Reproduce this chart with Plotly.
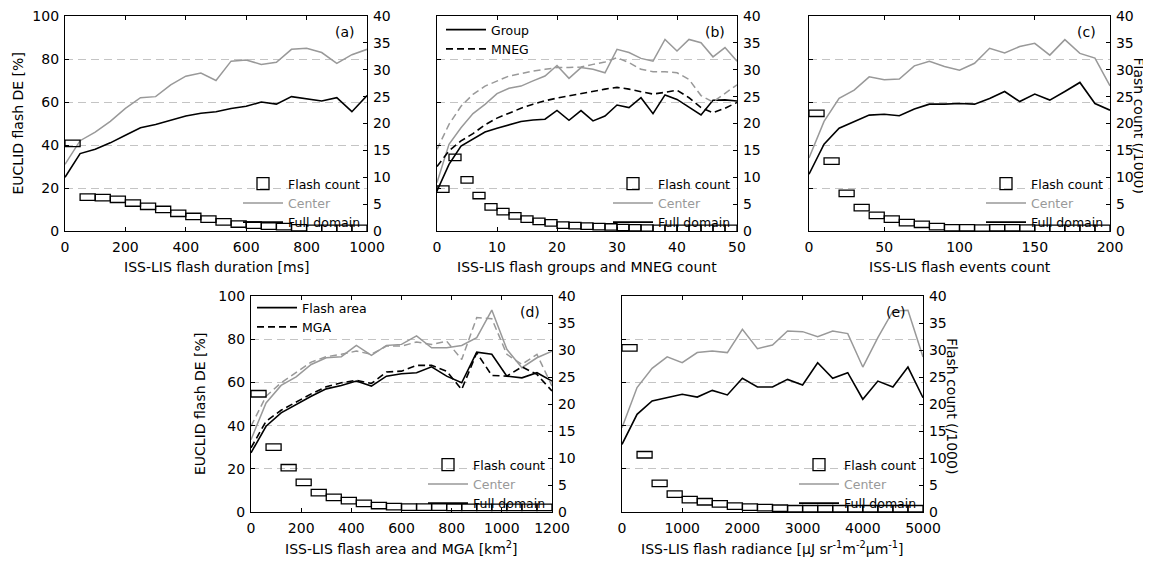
import plotly.graph_objects as go

FONT = "DejaVu Sans"
GREY = "#999999"
W, H = 1151, 561
OFF = 8  # the page places the figure 8 px in from the window's top-left corner

# ---------------- data ----------------
# (a) flash duration
a_x = list(range(0, 1001, 50))
a_center = [31, 42, 46, 51, 57, 62, 62.5, 68, 72, 73.5, 70, 79, 79.5, 77.5, 78.5, 84.5, 85, 83, 78, 82, 84.5]
a_full = [25, 36, 38, 41, 44.5, 48, 49.5, 51.5, 53.5, 54.8, 55.5, 57, 58, 60, 59, 62.5, 61.5, 60.5, 62, 55.5, 63]
a_count = [16.3, 6.3, 6.2, 5.9, 5.2, 4.6, 4.0, 3.3, 2.7, 2.2, 1.7, 1.3, 1.1, 0.9, 0.8, 0.6, 0.5, 0.5, 0.5, 0.5]

# (b) groups and MNEG count
b_x = list(range(0, 51, 2))
b_group_center = [22.5, 40.3, 48, 54.6, 58.9, 63.9, 66.4, 67.4, 69.8, 72.1, 77, 71, 76, 75.2, 73.6, 84.5, 83, 80.3, 79, 89.1, 83.7, 89.1, 87.6, 81, 85.3, 79]
b_group_full = [18.6, 31, 39.5, 42.6, 46, 47.8, 49.3, 50.9, 51.6, 52, 56.1, 51.5, 56, 51.2, 53.5, 58.6, 57.4, 62, 54.6, 63.3, 61.2, 57.7, 54, 60.8, 61, 60.5]
b_mneg_center = [38, 49.6, 58, 63.6, 67.4, 69.8, 72.1, 73.2, 74.4, 75.2, 76, 76, 76.3, 77.5, 78.6, 80.6, 78.3, 75.2, 74.1, 74.1, 73.6, 70.5, 63, 60, 64, 68]
b_mneg_full = [30, 37.3, 41.9, 45.3, 49.4, 52.5, 54.8, 57.1, 59, 60.6, 61.8, 62.9, 64, 65.2, 66, 66.8, 66, 64.8, 63.7, 64.5, 65.5, 62, 57.4, 55, 57.1, 59.8]
b_count = [7.8, 13.7, 9.5, 6.6, 4.5, 3.6, 2.8, 2.2, 1.8, 1.5, 1.1, 1.0, 0.9, 0.8, 0.75, 0.65, 0.6, 0.55, 0.5, 0.5, 0.5, 0.5, 0.5, 0.5, 0.5]

# (c) events count
c_x = list(range(0, 201, 10))
c_center = [34, 51, 61.7, 65.5, 71.7, 70.3, 70.7, 76.8, 78.9, 76.5, 74.8, 78, 85, 82.8, 85.8, 87.3, 81.8, 89, 82.6, 80.4, 67.5]
c_full = [26.4, 40.4, 47.8, 50.8, 53.9, 54.3, 53.6, 56.7, 59, 59, 59.3, 59, 61.6, 64.9, 60.2, 63.7, 60.9, 64.9, 69.1, 59.3, 56.2]
c_count = [21.9, 13.0, 7.0, 4.35, 2.9, 2.2, 1.55, 1.25, 0.8, 0.6, 0.6, 0.55, 0.6, 0.6, 0.55, 0.5, 0.5, 0.5, 0.5, 0.5]

# (d) flash area and MGA
d_x = list(range(0, 1201, 60))
d_area_center = [33.5, 50.5, 58.6, 62.6, 68.3, 71.4, 71.9, 77.1, 72.5, 77.1, 77.6, 81.5, 76, 76, 77.1, 80.7, 93.5, 75.3, 66.8, 71.4, 74.5]
d_area_full = [27.4, 39.7, 45.9, 49.8, 53.6, 57, 58.6, 60.6, 58.3, 62.9, 64, 64.5, 67.2, 62.9, 59.8, 74, 73, 62.9, 62.1, 64.5, 60.6]
d_mga_center = [39.7, 53.6, 59.8, 64.5, 69.4, 71.9, 73, 74.5, 73, 76.8, 76.8, 78.7, 77.6, 79.1, 70.6, 90, 89.5, 73, 68.3, 73, 58.3]
d_mga_full = [29.7, 42, 47.1, 50.9, 54.7, 58, 59.8, 61, 59.5, 64.8, 65.2, 67.9, 67.9, 65.2, 56.7, 73.7, 63.2, 62.9, 67.2, 63.7, 56]
d_count = [21.9, 12.0, 8.2, 5.5, 3.6, 2.7, 2.1, 1.6, 1.2, 1.0, 0.9, 0.9, 0.9, 0.85, 0.85, 0.85, 0.85, 0.85, 0.85, 0.85]

# (e) flash radiance
e_x = list(range(0, 5001, 250))
e_center = [39, 57.6, 66.5, 71.8, 69.1, 73.8, 74.5, 73.8, 84.6, 75.6, 77.3, 83.8, 83.5, 81.2, 83.8, 82.6, 67.1, 80.7, 93, 93.4, 71.8]
e_full = [31.3, 45.2, 51.4, 52.9, 54.5, 53.2, 56.3, 54.2, 61.9, 57.9, 57.9, 61.4, 58.8, 69.1, 61.9, 64.5, 52.2, 60.6, 57.9, 67.1, 52.9]
e_count = [30.4, 10.6, 5.3, 3.3, 2.3, 1.9, 1.5, 1.1, 0.9, 0.8, 0.7, 0.6, 0.6, 0.6, 0.6, 0.6, 0.6, 0.6, 0.6, 0.6]

x_titles = ["ISS-LIS flash duration [ms]",
            "ISS-LIS flash groups and MNEG count",
            "ISS-LIS flash events count",
            "ISS-LIS flash area and MGA [km<sup>2</sup>]",
            "ISS-LIS flash radiance [μJ sr<sup>-1</sup>m<sup>-2</sup>μm<sup>-1</sup>]"]
panel_labels = ["(a)", "(b)", "(c)", "(d)", "(e)"]
left_title = "EUCLID flash DE [%]"
right_title = "Flash count (/1000)"
BOX_H = 1.2  # drawn height of the flash-count boxes (right-axis units)

# ---------------- layout geometry (window pixels) ----------------
panels = [  # x0, x1, ytop, ybot
    (65, 367, 16, 231),
    (437, 737, 16, 231),
    (809, 1110, 16, 231),
    (251, 552, 296, 512),
    (622, 923, 296, 512),
]
x_ranges = [[0, 1000], [0, 50], [0, 200], [0, 1200], [0, 5000]]
x_dticks = [200, 10, 50, 200, 1000]
left_labels = [True, False, False, True, False]


def px(x):
    return (x - OFF) / W


def py(y):
    return 1 - (y - OFF) / H


fig = go.Figure()
layout = dict()
tickfont = dict(family=FONT, size=14, color="black")
common = dict(showline=True, linecolor="black", linewidth=1.2,
              ticks="inside", ticklen=4, tickcolor="black", tickwidth=1,
              zeroline=False, tickfont=tickfont, automargin=False,
              ticklabeloverflow="allow", tickmode="linear", tick0=0)

for i, (x0, x1, yt, yb) in enumerate(panels):
    n = i + 1
    sfx = "" if n == 1 else str(n)
    layout["xaxis" + sfx] = dict(domain=[px(x0), px(x1)], range=x_ranges[i], anchor="y" + sfx,
                                 dtick=x_dticks[i], mirror="ticks", showgrid=False,
                                 ticklabelstandoff=3, **common)
    layout["yaxis" + sfx] = dict(domain=[py(yb), py(yt)], range=[0, 100], anchor="x" + sfx,
                                 dtick=20, showgrid=True, gridcolor="#c4c4c4",
                                 griddash="8px,5px", gridwidth=1,
                                 showticklabels=left_labels[i], ticklabelstandoff=2, **common)
    layout[f"yaxis{n + 5}"] = dict(overlaying="y" + sfx, side="right", anchor="x" + sfx,
                                   range=[0, 40], dtick=5, showgrid=False,
                                   ticklabelstandoff=2, **common)

datasets = [
    (a_x, a_count, [(a_center, GREY, "solid"), (a_full, "black", "solid")]),
    (b_x, b_count, [(b_group_center, GREY, "solid"), (b_group_full, "black", "solid"),
                    (b_mneg_center, GREY, "dash"), (b_mneg_full, "black", "dash")]),
    (c_x, c_count, [(c_center, GREY, "solid"), (c_full, "black", "solid")]),
    (d_x, d_count, [(d_area_center, GREY, "solid"), (d_area_full, "black", "solid"),
                    (d_mga_center, GREY, "dash"), (d_mga_full, "black", "dash")]),
    (e_x, e_count, [(e_center, GREY, "solid"), (e_full, "black", "solid")]),
]

DASH = "7px,4px"
for i, (xs, counts, lines) in enumerate(datasets):
    n = i + 1
    sfx = "" if n == 1 else str(n)
    xr, yl, yr = "x" + sfx, "y" + sfx, f"y{n + 5}"
    lg = "legend" + sfx
    for vals, col, dash in lines:
        fig.add_trace(go.Scatter(x=xs, y=vals, mode="lines", xaxis=xr, yaxis=yl,
                                 line=dict(color=col, width=1.6 if col == "black" else 1.5,
                                           dash=DASH if dash == "dash" else "solid"),
                                 showlegend=False, hoverinfo="skip"))
    # flash count boxes on right axis, one per bin between consecutive x values
    centers = [(xs[k] + xs[k + 1]) / 2 for k in range(len(xs) - 1)]
    bw = xs[1] - xs[0]
    fig.add_trace(go.Bar(x=centers, y=[BOX_H] * len(counts), base=[c - BOX_H / 2 for c in counts],
                         width=bw, xaxis=xr, yaxis=yr,
                         marker=dict(color="rgba(0,0,0,0)", line=dict(color="black", width=1.3)),
                         name="Flash count", legend=lg, legendrank=1, showlegend=True,
                         hoverinfo="skip"))
    # legend entries
    fig.add_trace(go.Scatter(x=[None], y=[None], mode="lines", xaxis=xr, yaxis=yl,
                             line=dict(color=GREY, width=1.5),
                             name=f"<span style='color:{GREY}'>Center</span>",
                             legend=lg, legendrank=2))
    fig.add_trace(go.Scatter(x=[None], y=[None], mode="lines", xaxis=xr, yaxis=yl,
                             line=dict(color="black", width=1.6),
                             name="Full domain", legend=lg, legendrank=3))
    x0, x1, yt, yb = panels[i]
    layout[lg] = dict(x=px(x1 - 1), y=py(yb + 6), xanchor="right", yanchor="bottom",
                      bgcolor="rgba(0,0,0,0)", borderwidth=0,
                      font=dict(family=FONT, size=12.5, color="black"),
                      traceorder="normal", itemwidth=40)

# top-left legends for (b) and (d)
extra = [(2, "legend6", ["Group", "MNEG"], 4, -1), (4, "legend7", ["Flash area", "MGA"], 1, -3)]
for pi, lg, names, dx, dy in extra:
    xr, yl = f"x{pi}", f"y{pi}"
    for k, nm in enumerate(names):
        fig.add_trace(go.Scatter(x=[None], y=[None], mode="lines", xaxis=xr, yaxis=yl,
                                 line=dict(color="black", width=1.6, dash="solid" if k == 0 else DASH),
                                 name=nm, legend=lg, legendrank=k + 1))
    x0, x1, yt, yb = panels[pi - 1]
    layout[lg] = dict(x=px(x0 + dx), y=py(yt + dy), xanchor="left", yanchor="top",
                      bgcolor="rgba(0,0,0,0)", borderwidth=0,
                      font=dict(family=FONT, size=12.5, color="black"),
                      traceorder="normal", itemwidth=40)

annotations = []
for i, (x0, x1, yt, yb) in enumerate(panels):
    annotations.append(dict(x=px((x0 + x1) / 2), y=py(yb + 36), xref="paper", yref="paper",
                            text=x_titles[i], showarrow=False, xanchor="center", yanchor="middle",
                            font=dict(family=FONT, size=14, color="black")))
    lab_off = [10, 10, 12, 10, 15][i]
    annotations.append(dict(x=px(x1 - lab_off), y=py(yt + 16), xref="paper", yref="paper",
                            text=panel_labels[i], showarrow=False, xanchor="right", yanchor="middle",
                            font=dict(family=FONT, size=14, color="black")))
for (pi, xc) in [(0, 18), (3, 200)]:
    x0, x1, yt, yb = panels[pi]
    annotations.append(dict(x=px(xc), y=py((yt + yb) / 2), xref="paper", yref="paper",
                            text=left_title, showarrow=False, textangle=-90,
                            xanchor="center", yanchor="middle",
                            font=dict(family=FONT, size=14, color="black")))
for pi in [2, 4]:
    x0, x1, yt, yb = panels[pi]
    annotations.append(dict(x=px(x1 + 29), y=py((yt + yb) / 2 + 2), xref="paper", yref="paper",
                            text=right_title, showarrow=False, textangle=90,
                            xanchor="center", yanchor="middle",
                            font=dict(family=FONT, size=14, color="black")))

fig.update_layout(width=W, height=H,
                  margin=dict(l=0, r=0, t=0, b=0, pad=0, autoexpand=False),
                  paper_bgcolor="white", plot_bgcolor="rgba(0,0,0,0)",
                  barmode="overlay", annotations=annotations,
                  font=dict(family=FONT, size=14, color="black"), **layout)

fig.write_html("out.html")
